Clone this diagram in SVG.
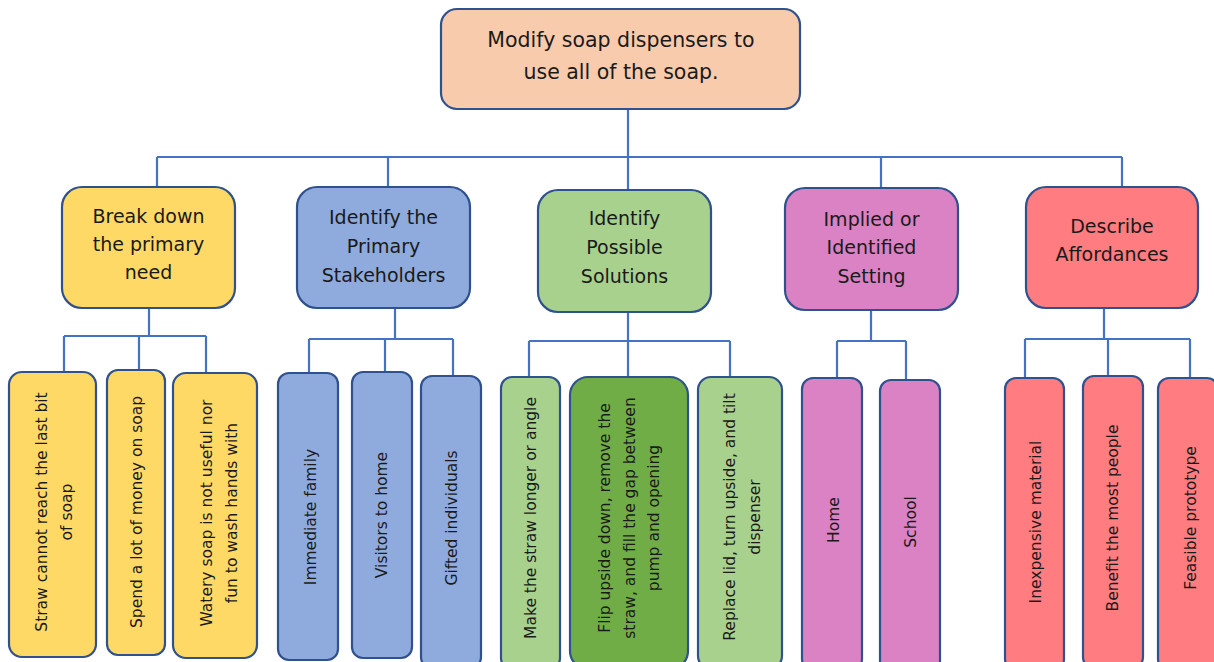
<svg xmlns="http://www.w3.org/2000/svg" width="1214" height="662" viewBox="0 0 1214 662">
<style>
.box{stroke:#2F528F;stroke-width:2.2}
.con{stroke:#4472C4;stroke-width:2.2;fill:none}
text{font-family:"DejaVu Sans",Verdana,sans-serif;fill:#1a1a1a;text-anchor:middle;dominant-baseline:central}
.t0{font-size:20.5px}
.t1{font-size:19px}
.t2{font-size:15.5px}
.peach{fill:#F8CBAD}.yel{fill:#FFD966}.blu{fill:#8FAADC}.grn{fill:#A9D18E}.dgr{fill:#70AD47}.pnk{fill:#DA82C3}.red{fill:#FF7C80}
</style>
<rect width="1214" height="662" fill="#fff"/>
<g id="connectors">
<path class="con" d="M628 109V157M157 157H1122M157 157V187M388 157V187M628 157V190M881 157V188M1122 157V187"/>
<path class="con" d="M149 308V336M64 336H206M64 336V372M139 336V370M206 336V373"/>
<path class="con" d="M395 308V339M309 339H453M309 339V373M385 339V372M453 339V376"/>
<path class="con" d="M628 312V341M529 341H730M529 341V377M628 341V377M730 341V377"/>
<path class="con" d="M871 310V341M837 341H906M837 341V378M906 341V380"/>
<path class="con" d="M1104 308V339M1025 339H1190M1025 339V378M1108 339V376M1190 339V378"/>
</g>
<g id="root">
<rect class="box peach" x="441" y="9" width="359" height="100" rx="16"/>
<text class="t0" x="621" y="40">Modify soap dispensers to</text>
<text class="t0" x="621" y="72">use all of the soap.</text>
</g>
<g id="cat-need">
<rect class="box yel" x="62" y="187" width="173" height="121" rx="20"/>
<text class="t1" x="148.5" y="216">Break down</text>
<text class="t1" x="148.5" y="244">the primary</text>
<text class="t1" x="148.5" y="272">need</text>
</g>
<g id="cat-stake">
<rect class="box blu" x="297" y="187" width="173" height="121" rx="20"/>
<text class="t1" x="383.5" y="217">Identify the</text>
<text class="t1" x="383.5" y="246">Primary</text>
<text class="t1" x="383.5" y="275">Stakeholders</text>
</g>
<g id="cat-sol">
<rect class="box grn" x="538" y="190" width="173" height="122" rx="20"/>
<text class="t1" x="624.5" y="218">Identify</text>
<text class="t1" x="624.5" y="247">Possible</text>
<text class="t1" x="624.5" y="276">Solutions</text>
</g>
<g id="cat-set">
<rect class="box pnk" x="785" y="188" width="173" height="122" rx="20"/>
<text class="t1" x="871.5" y="219">Implied or</text>
<text class="t1" x="871.5" y="247">Identified</text>
<text class="t1" x="871.5" y="276">Setting</text>
</g>
<g id="cat-aff">
<rect class="box red" x="1026" y="187" width="172" height="121" rx="20"/>
<text class="t1" x="1112" y="226">Describe</text>
<text class="t1" x="1112" y="254">Affordances</text>
</g>
<g id="leaf1"><rect class="box yel" x="9" y="372" width="87" height="285" rx="13"/>
<g transform="translate(54.5,512) rotate(-90)"><text class="t2" x="0" y="-12.5">Straw cannot reach the last bit</text><text class="t2" x="0" y="12.5">of soap</text></g></g>
<g id="leaf2"><rect class="box yel" x="107" y="370" width="58" height="285" rx="11"/>
<g transform="translate(137,512) rotate(-90)"><text class="t2" x="0" y="0">Spend a lot of money on soap</text></g></g>
<g id="leaf3"><rect class="box yel" x="173" y="373" width="84" height="285" rx="13"/>
<g transform="translate(219.5,513) rotate(-90)"><text class="t2" x="0" y="-12.5">Watery soap is not useful nor</text><text class="t2" x="0" y="12.5">fun to wash hands with</text></g></g>
<g id="leaf4"><rect class="box blu" x="278" y="373" width="60" height="287" rx="11"/>
<g transform="translate(311,517) rotate(-90)"><text class="t2" x="0" y="0">Immediate family</text></g></g>
<g id="leaf5"><rect class="box blu" x="352" y="372" width="60" height="286" rx="11"/>
<g transform="translate(382,515) rotate(-90)"><text class="t2" x="0" y="0">Visitors to home</text></g></g>
<g id="leaf6"><rect class="box blu" x="421" y="376" width="60" height="292" rx="11"/>
<g transform="translate(452,518) rotate(-90)"><text class="t2" x="0" y="0">Gifted individuals</text></g></g>
<g id="leaf7"><rect class="box grn" x="501" y="377" width="59" height="292" rx="11"/>
<g transform="translate(531,518) rotate(-90)"><text class="t2" x="0" y="0">Make the straw longer or angle</text></g></g>
<g id="leaf8"><rect class="box dgr" x="570" y="377" width="118" height="292" rx="18"/>
<g transform="translate(629.5,518) rotate(-90)"><text class="t2" x="0" y="-24.5">Flip upside down, remove the</text><text class="t2" x="0" y="0">straw, and fill the gap between</text><text class="t2" x="0" y="24.5">pump and opening</text></g></g>
<g id="leaf9"><rect class="box grn" x="698" y="377" width="84" height="292" rx="13"/>
<g transform="translate(742.5,517) rotate(-90)"><text class="t2" x="0" y="-12.5">Replace lid, turn upside, and tilt</text><text class="t2" x="0" y="12.5">dispenser</text></g></g>
<g id="leaf10"><rect class="box pnk" x="802" y="378" width="60" height="292" rx="11"/>
<g transform="translate(834,520) rotate(-90)"><text class="t2" x="0" y="0">Home</text></g></g>
<g id="leaf11"><rect class="box pnk" x="880" y="380" width="60" height="292" rx="11"/>
<g transform="translate(911,522) rotate(-90)"><text class="t2" x="0" y="0">School</text></g></g>
<g id="leaf12"><rect class="box red" x="1005" y="378" width="59" height="292" rx="11"/>
<g transform="translate(1036,522) rotate(-90)"><text class="t2" x="0" y="0">Inexpensive material</text></g></g>
<g id="leaf13"><rect class="box red" x="1083" y="376" width="60" height="292" rx="11"/>
<g transform="translate(1113,518) rotate(-90)"><text class="t2" x="0" y="0">Benefit the most people</text></g></g>
<g id="leaf14"><rect class="box red" x="1158" y="378" width="60" height="292" rx="11"/>
<g transform="translate(1191,518) rotate(-90)"><text class="t2" x="0" y="0">Feasible prototype</text></g></g>
</svg>
